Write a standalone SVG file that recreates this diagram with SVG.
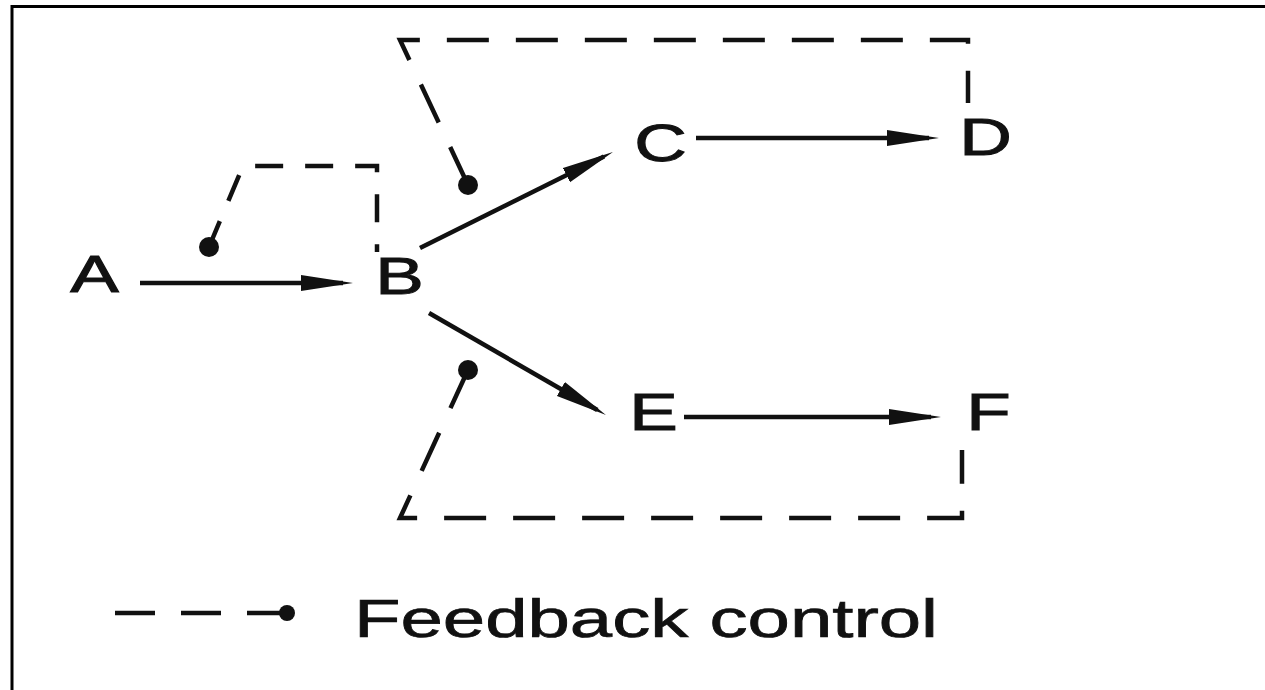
<svg xmlns="http://www.w3.org/2000/svg" width="1265" height="690" viewBox="0 0 1265 690">
  <style>
    .lbl { font-family: "Liberation Sans", Arial, sans-serif; font-size: 52px; fill: #111; stroke: #111; stroke-width: 1; text-anchor: middle; }
    .legend { font-family: "Liberation Sans", Arial, sans-serif; font-size: 54px; fill: #111; stroke: #111; stroke-width: 0.7; }
    .flow { fill: none; stroke: #111; stroke-width: 4.5; marker-end: url(#arrow); }
    .fb { fill: none; stroke: #111; stroke-width: 4.5; stroke-dasharray: 42 27; }
    .fbs { fill: none; stroke: #111; stroke-width: 4.5; stroke-dasharray: 28 22; }
    .dot { fill: #111; }
    .frame { stroke: #000; stroke-width: 3; fill: none; }
  </style>
  <defs>
    <marker id="arrow" markerUnits="userSpaceOnUse" markerWidth="52" markerHeight="18" viewBox="0 0 52 18" refX="42" refY="9" orient="auto">
      <path d="M0,1 L52,9 L0,17 Z" fill="#111"/>
    </marker>
  </defs>
  <rect width="1265" height="690" fill="#fff"/>
  <path class="frame" d="M12,690 L12,6.5 L1265,6.5"/>

  <g id="connectors">
    <line class="flow" x1="140" y1="283" x2="343" y2="283"/>
    <line class="flow" x1="420" y1="248" x2="604" y2="156.5"/>
    <line class="flow" x1="696" y1="138" x2="929" y2="138"/>
    <line class="flow" x1="429" y1="313" x2="597.3" y2="410"/>
    <line class="flow" x1="684" y1="417" x2="931" y2="417"/>

    <g id="feedback-B">
      <path class="fbs" d="M209,247 L243,166 L377,166 L377,252"/>
      <circle class="dot" cx="209" cy="247" r="10"/>
    </g>
    <g id="feedback-D">
      <path class="fb" d="M468,185 L400,40 L968,40 L968,103"/>
      <circle class="dot" cx="468" cy="185" r="10"/>
    </g>
    <g id="feedback-F">
      <path class="fb" d="M468,370 L400,518 L962,518 L962,450"/>
      <circle class="dot" cx="468" cy="370" r="10"/>
    </g>
  </g>

  <g id="node-A"><text class="lbl" transform="translate(94.5,292) scale(1.4,1)">A</text></g>
  <g id="node-B"><text class="lbl" transform="translate(399.5,294) scale(1.4,1)">B</text></g>
  <g id="node-C"><text class="lbl" transform="translate(660.5,161) scale(1.4,1)">C</text></g>
  <g id="node-D"><text class="lbl" transform="translate(985.5,155) scale(1.4,1)">D</text></g>
  <g id="node-E"><text class="lbl" transform="translate(653.5,430) scale(1.4,1)">E</text></g>
  <g id="node-F"><text class="lbl" transform="translate(988.5,430) scale(1.4,1)">F</text></g>

  <g id="legend">
    <path fill="none" stroke="#111" stroke-width="4.5" stroke-dasharray="40 26" d="M287,613 L115,613"/>
    <circle class="dot" cx="287" cy="613" r="8"/>
    <text class="legend" x="354" y="637" textLength="584" lengthAdjust="spacingAndGlyphs">Feedback control</text>
  </g>
</svg>
